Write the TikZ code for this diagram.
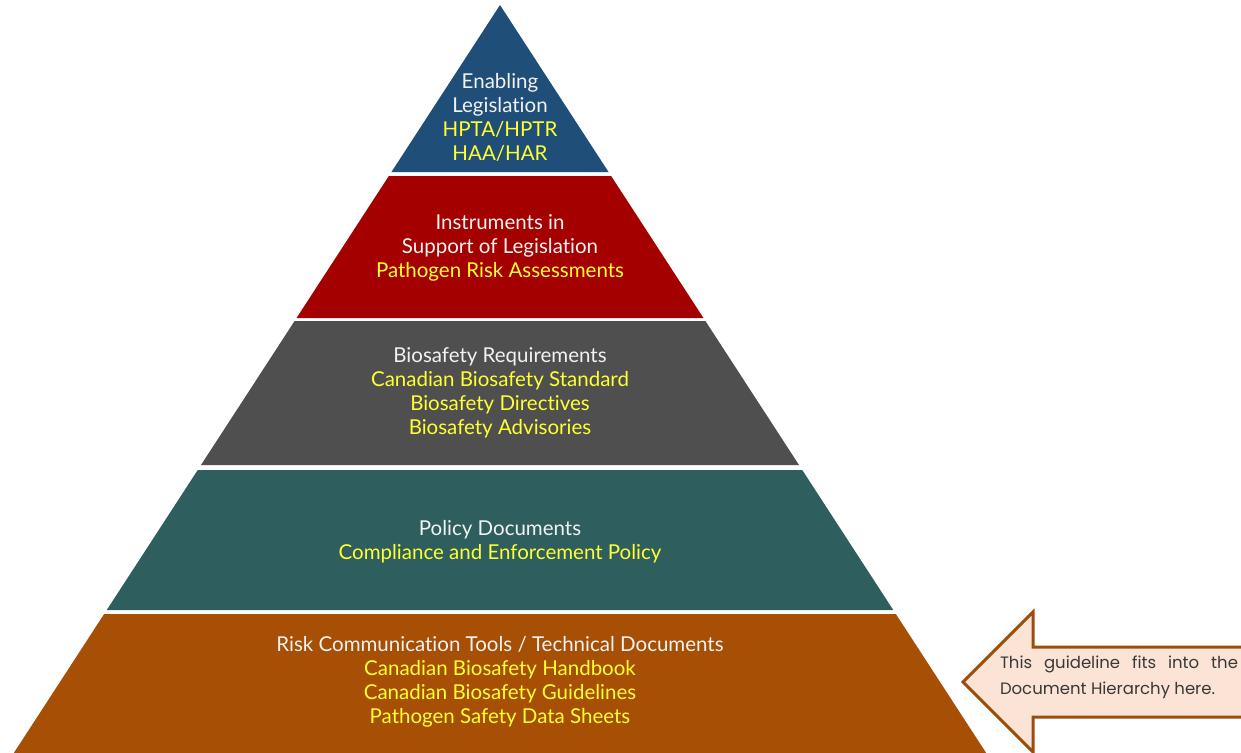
\documentclass[tikz,border=0pt]{standalone}
\usepackage{fontspec}
\setmainfont{Lato}[Ligatures=NoCommon]
\newfontfamily\notefont{Poppins}
\usepackage{tikz}
\definecolor{legisblue}{HTML}{1F4E79}
\definecolor{instred}{HTML}{A50000}
\definecolor{reqgray}{HTML}{4F4F4F}
\definecolor{polteal}{HTML}{2F5E5E}
\definecolor{toolbrown}{HTML}{A64F05}
\definecolor{hilite}{HTML}{FFFF33}
\definecolor{notefill}{HTML}{FBE4D5}
\definecolor{noteedge}{HTML}{9C4D0E}
\definecolor{notetext}{HTML}{383838}
\tikzstyle{tier} = [align=center, text=white!95!black, font=\fontsize{20.5}{24}\selectfont]
\tikzstyle{callout} = [fill=notefill, draw=noteedge, line width=3pt, line join=miter]
\tikzstyle{notestyle} = [align=left, text=notetext, font=\notefont\fontsize{16.5}{26}\selectfont]
\newcommand{\hl}[1]{\textcolor{hilite}{#1}}

\begin{document}
\begin{tikzpicture}[x=1pt,y=-1pt]
    \useasboundingbox (0,0) rectangle (1241,752);
    \clip (0,0) rectangle (1241,752);

    % pyramid tiers, top to bottom (y grows downwards)
    \foreach \ya/\yb/\c in {5/172/legisblue,176/318/instred,321/465/reqgray,470/610/polteal,614/760/toolbrown}
        \fill[\c] ({500-0.65*(\ya-5)},\ya) -- ({500+0.65*(\ya-5)},\ya)
            -- ({500+0.65*(\yb-5)},\yb) -- ({500-0.65*(\yb-5)},\yb) -- cycle;

    \node[tier] (legis) at (500,117) {Enabling\\Legislation\\\hl{HPTA/HPTR}\\\hl{HAA/HAR}};
    \node[tier] (instr) at (500,248) {Instruments in\\Support of Legislation\\\hl{Pathogen Risk Assessments}};
    \node[tier] (reqs) at (500,393) {Biosafety Requirements\\\hl{Canadian Biosafety Standard}\\\hl{Biosafety Directives}\\\hl{Biosafety Advisories}};
    \node[tier] (policy) at (500,542) {Policy Documents\\\hl{Compliance and Enforcement Policy}};
    \node[tier] (tools) at (500,682) {Risk Communication Tools / Technical Documents\\\hl{Canadian Biosafety Handbook}\\\hl{Canadian Biosafety Guidelines}\\\hl{Pathogen Safety Data Sheets}};

    % arrow pointing back at the bottom tier
    \draw[callout] (1260,647) -- (1033,647) -- (1033,612) -- (963,682)
        -- (1033,752) -- (1033,717) -- (1260,717) -- cycle;
    \node[notestyle] (note) at (1119,677) {\makebox[238pt][s]{This guideline fits into the}\\Document Hierarchy here.};
\end{tikzpicture}
\end{document}
